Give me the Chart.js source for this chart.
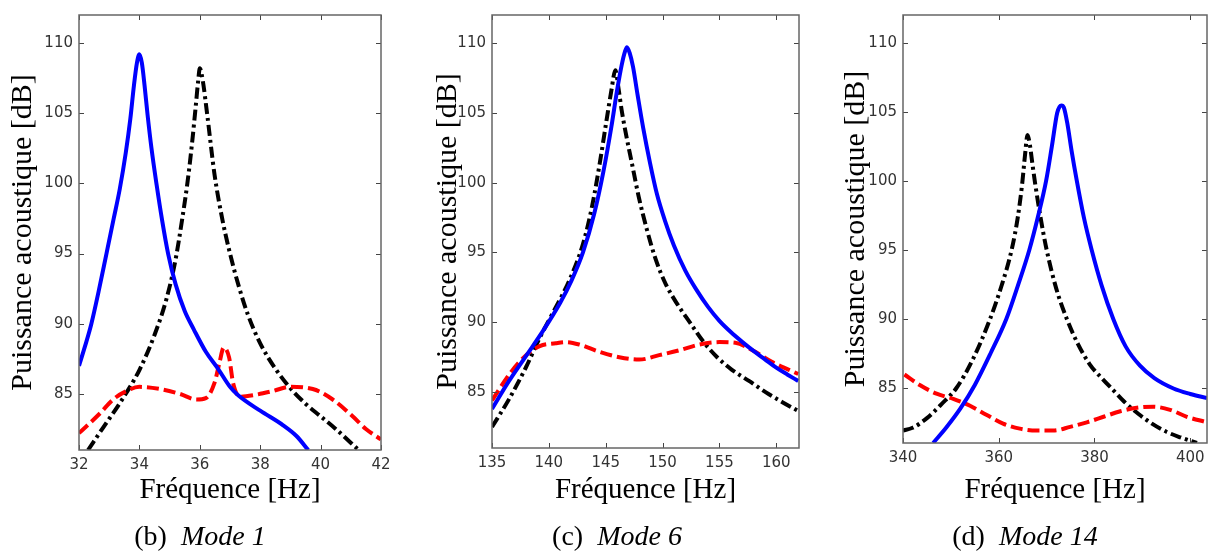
<!DOCTYPE html>
<html><head><meta charset="utf-8">
<script src="https://cdn.jsdelivr.net/npm/chart.js@4.4.1/dist/chart.umd.min.js"></script>
<style>
html,body{margin:0;padding:0;background:#fff;}
body{width:1212px;height:554px;position:relative;overflow:hidden;}
.panel{position:absolute;top:0;height:554px;}
.cap{position:absolute;top:522px;font-family:'Liberation Serif','Times New Roman',serif;font-size:28px;line-height:28px;white-space:nowrap;transform:translateX(-50%);color:#000;}
</style></head><body>
<div class="panel" style="left:0;width:400px"><canvas id="c1" width="400" height="554"></canvas></div>
<div class="panel" style="left:400px;width:420px"><canvas id="c2" width="420" height="554"></canvas></div>
<div class="panel" style="left:820px;width:392px"><canvas id="c3" width="392" height="554"></canvas></div>
<div class="cap" style="left:200px">(b)&nbsp; <i>Mode 1</i></div>
<div class="cap" style="left:617px">(c)&nbsp; <i>Mode 6</i></div>
<div class="cap" style="left:1025px">(d)&nbsp; <i>Mode 14</i></div>
<script>
// ---- tick labels ----
const yTicks = [85, 90, 95, 100, 105, 110];
const xTicks1 = [32, 34, 36, 38, 40, 42];
const xTicks2 = [135, 140, 145, 150, 155, 160];
const xTicks3 = [340, 360, 380, 400];
const xTitle = 'Fréquence [Hz]';
const yTitle = 'Puissance acoustique [dB]';

// ---- Mode 1 ----
const m1BlueF = [32.0,32.2,32.41,32.65,32.91,33.15,33.35,33.55,33.7,33.82,33.92,34.0,34.08,34.17,34.27,34.4,34.57,34.75,34.95,35.2,35.5,35.8,36.2,36.6,37.0,37.27,38.0,38.76,39.2,39.59];
const m1BlueP = [87.0,88.4,90.0,92.3,95.0,97.5,99.6,102.2,104.6,107.0,108.6,109.2,108.6,107.0,104.9,102.5,99.9,97.4,95.0,92.8,90.9,89.6,88.0,86.8,85.5,84.9,83.8,82.76,82.0,81.0];
const m1BlackF = [32.3,32.8,33.4,34.0,34.5,34.9,35.2,35.42,35.6,35.75,35.87,35.95,36.0,36.1,36.24,36.49,36.75,37.0,37.3,37.6,38.0,38.5,39.0,39.5,40.0,40.5,41.26];
const m1BlackP = [81.0,82.6,84.5,86.7,89.2,91.8,94.6,97.5,100.2,103.0,105.6,107.4,108.2,107.3,105.0,100.6,97.4,95.0,92.6,90.6,88.6,86.8,85.4,84.3,83.4,82.5,81.0];
const m1RedF = [32.0,32.69,33.13,33.57,34.0,34.67,35.34,35.89,36.2,36.49,36.66,36.79,36.97,37.1,37.32,37.76,38.42,38.97,39.74,40.4,41.06,41.5,42.0];
const m1RedP = [82.2,83.6,84.6,85.2,85.5,85.35,85.0,84.6,84.7,85.8,87.3,88.3,87.6,85.8,84.8,84.9,85.2,85.5,85.35,84.6,83.4,82.5,81.75];

// ---- Mode 6 ----
const m6BlueF = [135,136.5,138,139.5,141,142,143,144,144.8,145.5,146.0,146.4,146.7,146.87,147.1,147.4,147.8,148.3,148.9,149.5,150.2,151.0,152.0,153.0,154.0,155.0,156.0,157.0,158.0,159.0,160.0,161.0,161.93];
const m6BlueP = [83.8,85.8,87.6,89.4,91.4,93.0,95.0,97.8,100.8,104.0,106.6,108.4,109.4,109.7,109.3,108.3,106.3,103.9,101.4,99.2,97.3,95.5,93.7,92.3,91.1,90.1,89.3,88.6,87.95,87.35,86.75,86.25,85.8];
const m6BlackF = [135,136.5,138,139.2,140.5,141.8,143.0,143.8,144.5,145.1,145.5,145.85,146.1,146.4,146.8,147.3,147.9,148.6,149.4,150.3,151.3,152.4,153.6,154.8,156.1,157.6,159.06,160.5,161.93];
const m6BlackP = [82.5,84.5,86.8,88.9,90.9,93.0,95.6,98.3,101.5,104.6,106.6,108.05,106.9,105.2,103.4,101.4,99.0,96.7,94.5,92.7,91.3,90.0,88.6,87.5,86.6,85.8,85.0,84.3,83.65];
const m6RedF = [135.0,136.55,138.0,139.2,140.6,141.5,142.7,144.4,146.2,147.95,149.7,151.5,153.2,155.0,156.4,157.9,159.65,161.93];
const m6RedP = [84.4,86.3,87.65,88.3,88.5,88.58,88.4,87.9,87.5,87.33,87.65,88.0,88.4,88.58,88.53,88.0,87.15,86.3];

// ---- Mode 14 ----
const m14BlueF = [346.3,349,352,355,358.3,361.6,364.0,366.4,368.2,369.9,371.1,372.2,372.7,373.1,373.6,374.3,375.2,376.3,377.8,379.4,381.5,383.9,386.5,389.5,392.5,396.5,400,403.5];
const m14BlueP = [81.0,82.1,83.5,85.2,87.5,90.0,92.4,95.0,97.4,100.0,102.5,104.9,105.35,105.45,105.3,104.2,102.2,100.0,97.3,95.0,92.4,90.0,88.0,86.6,85.7,84.95,84.55,84.25];
const m14BlackF = [340,342,345,348,351.2,354.5,358.1,360.5,362.7,364.0,364.9,365.5,366.0,366.5,367.0,367.6,368.8,370.0,372.0,374.2,376.5,379.0,381.5,384.0,386.5,389.2,392.0,395.1,398.0,401.4];
const m14BlackP = [81.9,82.1,82.8,83.8,85.0,87.0,89.9,92.3,95.0,97.4,99.8,101.9,103.3,102.6,101.3,99.8,97.2,95.0,92.2,90.0,88.2,86.7,85.7,84.8,83.9,83.1,82.4,81.8,81.4,81.0];
const m14RedF = [340.3,343.5,347.0,350.5,354.0,357.4,360.9,364.4,367.9,371.4,374.9,378.4,381.9,385.4,388.85,392.3,395.8,399.3,403.5];
const m14RedP = [85.96,85.2,84.57,84.2,83.7,83.05,82.4,82.04,81.9,81.9,82.17,82.5,82.9,83.3,83.55,83.63,83.4,82.9,82.5];

const pts = (f, p) => f.map((v, i) => ({x: v, y: p[i]}));

const frameTicks = {
  id: 'frameTicks',
  afterDraw(chart) {
    const {ctx, chartArea: a, scales: {x, y}} = chart;
    ctx.save();
    ctx.strokeStyle = '#444';
    ctx.lineWidth = 1;
    ctx.beginPath();
    x.ticks.forEach(t => {
      const px = Math.round(x.getPixelForValue(t.value)) + 0.5;
      ctx.moveTo(px, a.bottom); ctx.lineTo(px, a.bottom - 5);
      ctx.moveTo(px, a.top); ctx.lineTo(px, a.top + 5);
    });
    y.ticks.forEach(t => {
      const py = Math.round(y.getPixelForValue(t.value)) + 0.5;
      ctx.moveTo(a.left, py); ctx.lineTo(a.left + 5, py);
      ctx.moveTo(a.right, py); ctx.lineTo(a.right - 5, py);
    });
    ctx.stroke();
    ctx.strokeStyle = '#666';
    ctx.lineWidth = 1.5;
    ctx.strokeRect(a.left, a.top, a.right - a.left, a.bottom - a.top);
    ctx.restore();
  }
};

function ds(data, color, dash) {
  return {data, borderColor: color, borderWidth: 4, borderDash: dash, pointRadius: 0,
    cubicInterpolationMode: 'monotone', clip: 0, fill: false, borderCapStyle: 'butt'};
}

function build(id, cfg) {
  new Chart(document.getElementById(id), {
    type: 'line',
    data: {datasets: [
      ds(pts(cfg.blue[0], cfg.blue[1]), '#0000ff', []),
      ds(pts(cfg.red[0], cfg.red[1]), '#ff0000', [12, 5]),
      ds(pts(cfg.black[0], cfg.black[1]), '#000000', [11, 4, 3, 4])
    ]},
    options: {
      responsive: false, animation: false, devicePixelRatio: 1,
      layout: {padding: cfg.pad},
      plugins: {legend: {display: false}, tooltip: {enabled: false}},
      scales: {
        x: {type: 'linear', min: cfg.xMin, max: cfg.xMax,
          grid: {display: false, drawTicks: false}, border: {display: false},
          afterBuildTicks: s => { s.ticks = cfg.xTicks.map(v => ({value: v})); },
          afterFit: s => { s.height = cfg.xH; },
          ticks: {padding: 6, maxRotation: 0, color: '#333', font: {family: 'DejaVu Sans', size: 15}},
          title: {display: true, text: xTitle, color: '#000', padding: {top: 0, bottom: 46},
            font: {family: 'Liberation Serif', size: 29}}
        },
        y: {type: 'linear', min: 81, max: 112,
          grid: {display: false, drawTicks: false}, border: {display: false},
          afterBuildTicks: s => { s.ticks = yTicks.map(v => ({value: v})); },
          afterFit: s => { s.width = cfg.yW; },
          ticks: {padding: 6, color: '#333', font: {family: 'DejaVu Sans', size: 15}},
          title: {display: true, text: yTitle, color: '#000', padding: {top: cfg.yTitlePad, bottom: 0},
            font: {family: 'Liberation Serif', size: 30}}
        }
      }
    },
    plugins: [frameTicks]
  });
}

build('c1', {blue: [m1BlueF, m1BlueP], black: [m1BlackF, m1BlackP], red: [m1RedF, m1RedP],
  xMin: 32, xMax: 42, xTicks: xTicks1, pad: {left: 0, right: 19, top: 11, bottom: 0}, yW: 79, xH: 104, yTitlePad: 5});
build('c2', {blue: [m6BlueF, m6BlueP], black: [m6BlackF, m6BlackP], red: [m6RedF, m6RedP],
  xMin: 135, xMax: 162, xTicks: xTicks2, pad: {left: 0, right: 21, top: 13, bottom: 0}, yW: 92, xH: 106, yTitlePad: 30});
build('c3', {blue: [m14BlueF, m14BlueP], black: [m14BlackF, m14BlackP], red: [m14RedF, m14RedP],
  xMin: 340, xMax: 403.5, xTicks: xTicks3, pad: {left: 0, right: 5, top: 12, bottom: 0}, yW: 83, xH: 111, yTitlePad: 18});
</script>
</body></html>
